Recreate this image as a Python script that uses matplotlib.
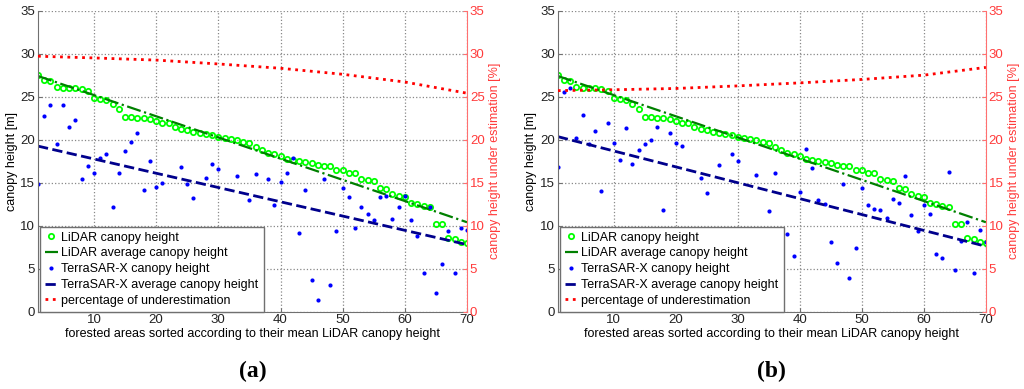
import numpy as np
import matplotlib
matplotlib.use('Agg')
import matplotlib.pyplot as plt

plt.rcParams['font.family'] = ['Liberation Sans', 'DejaVu Sans']

# forested areas, sorted by mean LiDAR canopy height
area_index = np.arange(1, 71)

lidar_height = [27.5, 26.9, 26.8, 26.1, 26.05, 26.0, 25.95, 25.9, 25.7, 24.9,
                24.7, 24.6, 24.2, 23.6, 22.6, 22.6, 22.5, 22.5, 22.4, 22.2,
                21.9, 21.9, 21.5, 21.2, 21.1, 20.9, 20.8, 20.7, 20.5, 20.35,
                20.2, 20.1, 20.0, 19.7, 19.6, 19.2, 18.8, 18.5, 18.3, 18.1,
                17.8, 17.6, 17.5, 17.45, 17.3, 17.0, 16.95, 16.9, 16.5, 16.5,
                16.1, 16.1, 15.4, 15.3, 15.25, 14.35, 14.3, 13.7, 13.45, 13.3,
                12.6, 12.55, 12.3, 12.15, 10.15, 10.15, 8.55, 8.4, 8.15, 8.0]

nan = np.nan
# some points sit under the legend and cannot be read
tsx_height_a = [14.9, 22.75, 24.0, 19.5, 24.0, 21.5, 22.3, 15.45, 16.9, 16.1,
                17.85, 18.35, 12.15, 16.1, 18.7, 19.75, 20.75, 14.2, 17.5, 14.45,
                15.0, nan, nan, 16.8, 14.85, 13.25, nan, 15.55, 17.15, 16.6,
                nan, nan, 15.8, nan, 12.95, 16.05, nan, 15.45, 12.4, 15.1,
                16.15, 17.85, 9.2, 14.15, 3.7, 1.35, 15.45, 3.05, 9.4, 14.35,
                13.35, 9.7, 12.15, 11.4, 10.7, 13.35, 13.45, 10.8, 12.15, 13.45,
                10.7, 8.8, 4.45, 12.2, 2.15, 5.6, 9.4, 4.45, 9.75, 9.5]

tsx_height_b = [16.8, 25.5, 25.95, 20.15, 22.85, 19.45, 21.0, 14.05, 21.9, 19.6,
                17.65, 21.35, 17.15, 18.8, 19.45, 19.95, 21.45, 11.85, 20.8, 19.6,
                19.3, nan, nan, 15.6, 13.75, nan, 17.0, nan, 18.35, 17.55,
                nan, nan, 15.9, nan, 11.65, 16.15, nan, 9.05, 6.5, 13.95,
                18.9, 16.75, 13.0, 12.5, 8.1, 5.7, 14.9, 3.95, 7.35, 14.4,
                12.45, 11.9, 11.8, 10.95, 13.05, 12.65, 15.8, 11.2, 9.4, 12.45,
                11.35, 6.65, 6.3, 16.2, 4.85, 8.2, 10.4, 4.55, 9.5, 8.15]

# average (trend) lines, values at first and last area
trend_x = [1, 70]
lidar_trend = [27.4, 10.4]
tsx_trend_a = [19.25, 7.8]
tsx_trend_b = [20.35, 7.6]

# percentage of underestimation, read at these areas
pct_x = [1, 10, 20, 30, 40, 50, 60, 70]
pct_a = [29.7, 29.5, 29.25, 28.8, 28.3, 27.6, 26.7, 25.4]
pct_b = [25.7, 25.8, 25.95, 26.25, 26.6, 27.0, 27.5, 28.4]

RED = '#ff3b3b'
SPINE_RED = '#ff7070'
GRAY = '#707070'
FS = 9


def draw_panel(fig, rect, tsx_height, tsx_trend, pct, tag):
    ax = fig.add_axes(rect)
    ax2 = ax.twinx()

    ax.plot(area_index, lidar_height, 'o', mfc='none', mec=(0, 1, 0), ms=3.8, mew=1.3,
            label='LiDAR canopy height')
    ax.plot(trend_x, lidar_trend, '-.', color=(0, 0.5, 0), lw=1.6,
            label='LiDAR average canopy height')
    ax.plot(area_index, tsx_height, 'o', color='blue', ms=3, mew=0,
            label='TerraSAR-X canopy height')
    ax.plot(trend_x, tsx_trend, '--', color=(0, 0, 0.55), lw=2,
            label='TerraSAR-X average canopy height')
    ax2.plot(pct_x, pct, ':', color='red', lw=2, label='percentage of underestimation')

    for a in (ax, ax2):
        a.set_xlim(1, 70)
        a.set_ylim(0, 35)
        a.set_yticks(np.arange(0, 36, 5))
        a.spines['top'].set_visible(False)
    ax.set_xticks(np.arange(10, 71, 10))
    ax.grid(True, linestyle=':', color='#888888', lw=0.9)

    ax.spines['left'].set_color(GRAY)
    ax.spines['bottom'].set_color(GRAY)
    ax.spines['right'].set_visible(False)
    ax2.spines['left'].set_visible(False)
    ax2.spines['bottom'].set_visible(False)
    ax2.spines['right'].set_color(SPINE_RED)

    ax.tick_params(direction='in', length=3, labelsize=FS + 0.5, colors='#222222', pad=2)
    ax.tick_params(axis='both', color=GRAY)
    ax2.tick_params(direction='in', length=3, labelsize=FS + 0.5, colors=RED, pad=2)
    ax2.tick_params(axis='y', color=SPINE_RED)

    ax.set_ylabel('canopy height [m]', fontsize=FS, labelpad=2)
    ax2.set_ylabel('canopy height under estimation [%]', fontsize=FS, color=RED, labelpad=3)
    ax.set_xlabel('forested areas sorted according to their mean LiDAR canopy height',
                  fontsize=FS, labelpad=1)

    h1, l1 = ax.get_legend_handles_labels()
    h2, l2 = ax2.get_legend_handles_labels()
    leg = ax2.legend(h1 + h2, l1 + l2, loc='lower left', bbox_to_anchor=(0.005, 0.0),
                     borderaxespad=0, fontsize=FS, framealpha=1, fancybox=False,
                     edgecolor=GRAY, labelspacing=0.3, handlelength=1.0,
                     handletextpad=0.3, borderpad=0.4)
    leg.get_frame().set_linewidth(1.0)
    leg.set_zorder(10)

    cx = rect[0] + rect[2] / 2
    fig.text(cx, 0.045, tag, ha='center', va='center', fontsize=17,
             fontweight='bold', family='Liberation Serif')


fig = plt.figure(figsize=(10.24, 3.89), dpi=100)
draw_panel(fig, [0.0371, 0.1987, 0.419, 0.774], tsx_height_a, tsx_trend_a, pct_a, '(a)')
draw_panel(fig, [0.5448, 0.1987, 0.418, 0.774], tsx_height_b, tsx_trend_b, pct_b, '(b)')

fig.savefig('out.png', dpi=100)
